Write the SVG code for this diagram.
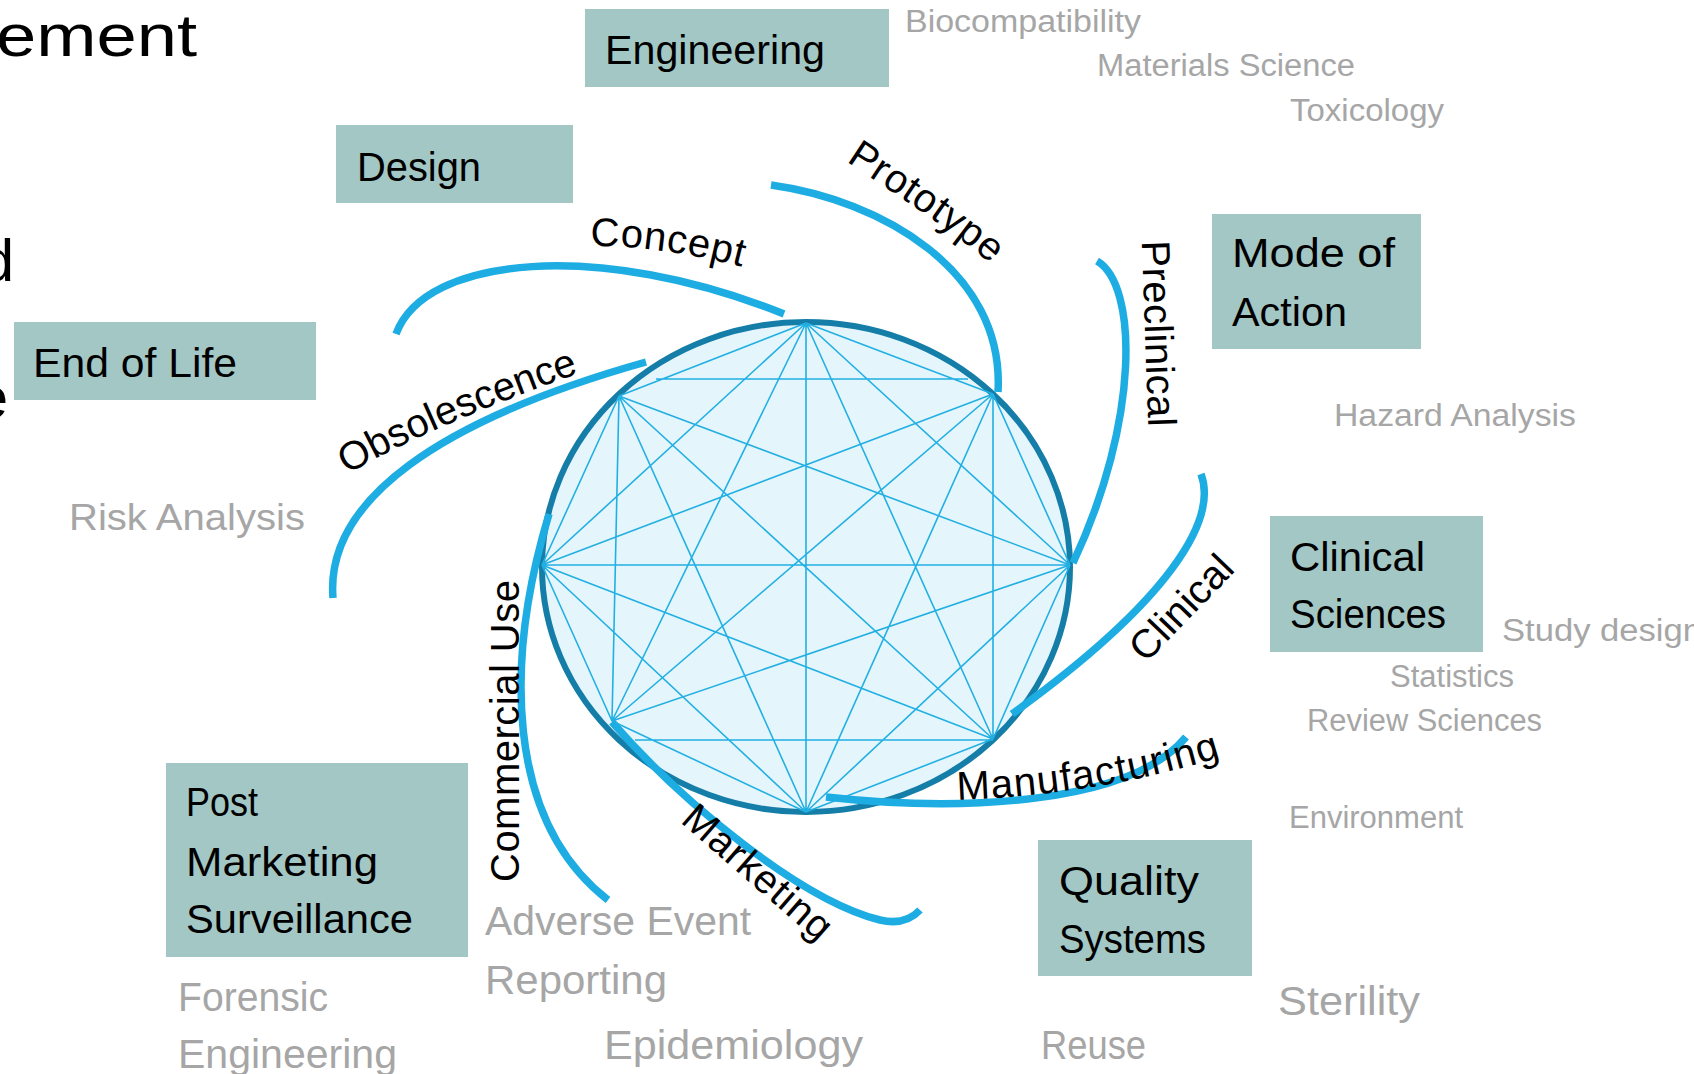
<svg xmlns="http://www.w3.org/2000/svg" width="1694" height="1074" viewBox="0 0 1694 1074">
<style>
.box{fill:#a3c7c4}
.bt{font-family:"Liberation Sans",Arial,sans-serif;font-size:41px;fill:#000}
.gt{font-family:"Liberation Sans",Arial,sans-serif;font-size:31px;fill:#a6a6a6}
.gl{font-family:"Liberation Sans",Arial,sans-serif;font-size:40px;fill:#a6a6a6}
.lab{font-family:"Liberation Sans",Arial,sans-serif;font-size:40px;fill:#000}
.title{font-family:"Liberation Sans",Arial,sans-serif;font-size:60px;fill:#000}
.arc{fill:none;stroke:#1dade2;stroke-width:7.5;stroke-linecap:butt}
.chord{fill:none;stroke:#22b0e3;stroke-width:1.6}
</style>
<defs>
<path id="pConcept" d="M 587 246 Q 660 245 746 268"/>
<path id="pPrototype" d="M 844 160 Q 968 241 992 266"/>
<path id="pObsolescence" d="M 345 476 Q 420 430 582 372"/>
<path id="pManufacturing" d="M 955 800 Q 1100 795 1224 756"/>
</defs>
<rect width="1694" height="1074" fill="#fff"/>

<g id="title">
<text class="title" x="-4" y="56" textLength="201" lengthAdjust="spacingAndGlyphs">ement</text>
<text class="title" x="14" y="281" text-anchor="end">d</text>
<text class="title" x="8" y="418" text-anchor="end">e</text>
</g>

<g id="wheel">
<ellipse cx="806" cy="567" rx="264" ry="245" fill="#e5f5fc" stroke="#157ea8" stroke-width="6"/>
<path class="chord" d="M806 323L993 394M806 323L1070 565M806 323L993 739M806 323L806 812M806 323L612 721M806 323L542 565M806 323L619 396
M993 394L1070 565M993 394L993 739M993 394L806 812M993 394L612 721M993 394L542 565
M1070 565L993 739M1070 565L806 812M1070 565L612 721M1070 565L542 565M1070 565L619 396
M993 739L806 812M993 739L542 565M993 739L619 396
M806 812L612 721M806 812L542 565M806 812L619 396
M612 721L542 565M612 721L619 396
M542 565L619 396
M656 379L968 379M635 740L993 740"/>
</g>

<g id="connectors">
<path class="arc" d="M 396 334 C 425 255, 600 240, 784 314"/>
<path class="arc" d="M 333 598 C 325 500, 440 420, 646 362"/>
<path class="arc" d="M 771 185 C 880 200, 1005 270, 998 392"/>
<path class="arc" d="M 1097 261 C 1138 285, 1140 420, 1073 563"/>
<path class="arc" d="M 1201 474 C 1218 520, 1170 600, 1012 714"/>
<path class="arc" d="M 1186 737 C 1130 805, 960 812, 826 797"/>
<path class="arc" d="M 612 722 C 680 800, 800 900, 880 920 Q 905 926 920 910"/>
<path class="arc" d="M 549 514 C 505 660, 505 820, 608 900"/>
</g>

<g id="stage-labels">
<text class="lab" letter-spacing="0.7"><textPath href="#pConcept" startOffset="50%" text-anchor="middle">Concept</textPath></text>
<text class="lab" letter-spacing="0.8"><textPath href="#pPrototype" startOffset="50%" text-anchor="middle">Prototype</textPath></text>
<text class="lab" transform="translate(1145,334) rotate(88)" text-anchor="middle" textLength="186">Preclinical</text>
<text class="lab" transform="translate(1191,617) rotate(-46)" text-anchor="middle" textLength="130">Clinical</text>
<text class="lab" letter-spacing="1.2"><textPath href="#pManufacturing" startOffset="50%" text-anchor="middle">Manufacturing</textPath></text>
<text class="lab" transform="translate(749,882) rotate(41)" text-anchor="middle" textLength="184">Marketing</text>
<text class="lab" transform="translate(519,731) rotate(-90)" text-anchor="middle" textLength="302">Commercial Use</text>
<text class="lab"><textPath href="#pObsolescence" startOffset="50%" text-anchor="middle">Obsolescence</textPath></text>
</g>

<g id="engineering">
<rect class="box" x="585" y="9" width="304" height="78"/>
<text class="bt" x="605" y="64" textLength="220" lengthAdjust="spacingAndGlyphs">Engineering</text>
</g>
<g id="design">
<rect class="box" x="336" y="125" width="237" height="78"/>
<text class="bt" x="357" y="181" textLength="124" lengthAdjust="spacingAndGlyphs">Design</text>
</g>
<g id="end-of-life">
<rect class="box" x="14" y="322" width="302" height="78"/>
<text class="bt" x="33" y="377" textLength="204" lengthAdjust="spacingAndGlyphs">End of Life</text>
</g>
<g id="mode-of-action">
<rect class="box" x="1212" y="214" width="209" height="135"/>
<text class="bt" x="1232" y="267" textLength="163" lengthAdjust="spacingAndGlyphs">Mode of</text>
<text class="bt" x="1232" y="326" textLength="115" lengthAdjust="spacingAndGlyphs">Action</text>
</g>
<g id="clinical-sciences">
<rect class="box" x="1270" y="516" width="213" height="136"/>
<text class="bt" x="1290" y="571" textLength="135" lengthAdjust="spacingAndGlyphs">Clinical</text>
<text class="bt" x="1290" y="628" textLength="156" lengthAdjust="spacingAndGlyphs">Sciences</text>
</g>
<g id="quality-systems">
<rect class="box" x="1038" y="840" width="214" height="136"/>
<text class="bt" x="1059" y="895" textLength="140" lengthAdjust="spacingAndGlyphs">Quality</text>
<text class="bt" x="1059" y="953" textLength="147" lengthAdjust="spacingAndGlyphs">Systems</text>
</g>
<g id="post-marketing-surveillance">
<rect class="box" x="166" y="763" width="302" height="194"/>
<text class="bt" x="186" y="816" textLength="72" lengthAdjust="spacingAndGlyphs">Post</text>
<text class="bt" x="186" y="876" textLength="192" lengthAdjust="spacingAndGlyphs">Marketing</text>
<text class="bt" x="186" y="933" textLength="227" lengthAdjust="spacingAndGlyphs">Surveillance</text>
</g>

<g id="topics">
<text class="gt" x="905" y="32" textLength="236" lengthAdjust="spacingAndGlyphs">Biocompatibility</text>
<text class="gt" x="1097" y="76" textLength="258" lengthAdjust="spacingAndGlyphs">Materials Science</text>
<text class="gt" x="1290" y="121" textLength="154" lengthAdjust="spacingAndGlyphs">Toxicology</text>
<text class="gt" x="1334" y="426" textLength="242" lengthAdjust="spacingAndGlyphs">Hazard Analysis</text>
<text class="gl" style="font-size:37px" x="69" y="530" textLength="236" lengthAdjust="spacingAndGlyphs">Risk Analysis</text>
<text class="gt" x="1502" y="641" textLength="200" lengthAdjust="spacingAndGlyphs">Study design</text>
<text class="gt" x="1390" y="687" textLength="124" lengthAdjust="spacingAndGlyphs">Statistics</text>
<text class="gt" x="1307" y="731" textLength="235" lengthAdjust="spacingAndGlyphs">Review Sciences</text>
<text class="gt" x="1289" y="828" textLength="174" lengthAdjust="spacingAndGlyphs">Environment</text>
<text class="gl" x="1278" y="1015" textLength="142" lengthAdjust="spacingAndGlyphs">Sterility</text>
<text class="gl" x="1041" y="1059" textLength="105" lengthAdjust="spacingAndGlyphs">Reuse</text>
<text class="gl" x="604" y="1059" textLength="259" lengthAdjust="spacingAndGlyphs">Epidemiology</text>
<text class="gl" x="485" y="935" textLength="266" lengthAdjust="spacingAndGlyphs">Adverse Event</text>
<text class="gl" x="485" y="994" textLength="182" lengthAdjust="spacingAndGlyphs">Reporting</text>
<text class="gl" x="178" y="1011" textLength="150" lengthAdjust="spacingAndGlyphs">Forensic</text>
<text class="gl" x="178" y="1068" textLength="219" lengthAdjust="spacingAndGlyphs">Engineering</text>
</g>
</svg>
